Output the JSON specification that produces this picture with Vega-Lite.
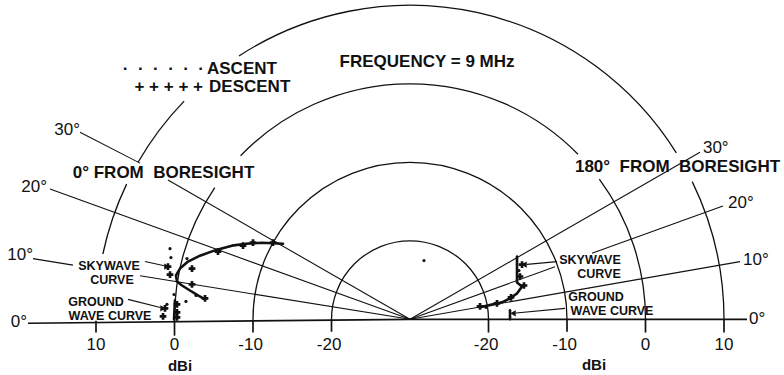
{
  "$schema": "https://vega.github.io/schema/vega-lite/v6.json",
  "width": 784,
  "height": 375,
  "padding": 0,
  "autosize": {"type": "fit", "contains": "padding"},
  "background": "white",
  "config": {"view": {"stroke": null}},
  "datasets": {
    "arcs": [
      {"r": 10, "a1": -90, "a2": 90},
      {"r": 20, "a1": -90, "a2": 90},
      {"r": 30, "a1": -90, "a2": -56},
      {"r": 30, "a1": -46, "a2": 45.5},
      {"r": 30, "a1": 53.5, "a2": 90},
      {"r": 40, "a1": -78, "a2": -64.5},
      {"r": 40, "a1": -60, "a2": -46},
      {"r": 40, "a1": -33, "a2": 58},
      {"r": 40, "a1": 64, "a2": 90}
    ],
    "lines": [
      {"x": 0, "y": 0, "x2": -34.39, "y2": 5.57},
      {"x": -42.93, "y": 6.94, "x2": -48.03, "y2": 7.77},
      {"x": 0, "y": 0, "x2": -45.86, "y2": 16.69},
      {"x": 0, "y": 0, "x2": -30.83, "y2": 17.83},
      {"x": -34.39, "y": 20.0, "x2": -42.04, "y2": 23.95},
      {"x": 0, "y": 0, "x2": 42.04, "y2": 7.39},
      {"x": 0, "y": 0, "x2": 18.47, "y2": 6.73},
      {"x": 23.18, "y": 8.45, "x2": 39.87, "y2": 14.52},
      {"x": 0, "y": 0, "x2": 36.94, "y2": 21.4},
      {"x": -33.76, "y": 7.39, "x2": -31.3, "y2": 6.85},
      {"x": -35.92, "y": 2.55, "x2": -31.8, "y2": 1.5},
      {"x": 18.73, "y": 7.39, "x2": 14.9, "y2": 7.03},
      {"x": 19.75, "y": 1.4, "x2": 13.5, "y2": 0.8}
    ],
    "base": [
      {"x": -48.66, "y": -0.51, "x2": 0, "y2": 0},
      {"x": 0, "y": 0, "x2": 42.93, "y2": 0},
      {"x": -40, "y": -0.2, "x2": -40, "y2": -1.7},
      {"x": -30, "y": 0, "x2": -30, "y2": -2.1},
      {"x": -20, "y": 0, "x2": -20, "y2": -1.7},
      {"x": -10, "y": 0, "x2": -10, "y2": -1.6},
      {"x": 10, "y": 0, "x2": 10, "y2": -1.7},
      {"x": 20, "y": 0, "x2": 20, "y2": -1.6},
      {"x": 30, "y": 0, "x2": 30, "y2": -1.7},
      {"x": 40, "y": 0, "x2": 40, "y2": -1.7}
    ],
    "curves": [
      {"s": "Lsky", "o": 1, "x": -16.18, "y": 9.68},
      {"s": "Lsky", "o": 2, "x": -18.85, "y": 9.81},
      {"s": "Lsky", "o": 3, "x": -20.89, "y": 9.68},
      {"s": "Lsky", "o": 4, "x": -22.68, "y": 9.43},
      {"s": "Lsky", "o": 5, "x": -24.59, "y": 8.92},
      {"s": "Lsky", "o": 6, "x": -26.75, "y": 8.15},
      {"s": "Lsky", "o": 7, "x": -28.28, "y": 7.39},
      {"s": "Lsky", "o": 8, "x": -29.3, "y": 6.5},
      {"s": "Lsky", "o": 9, "x": -29.81, "y": 5.61},
      {"s": "Lsky", "o": 10, "x": -29.68, "y": 4.84},
      {"s": "Lsky", "o": 11, "x": -29.04, "y": 4.33},
      {"s": "Lsky", "o": 12, "x": -28.03, "y": 3.69},
      {"s": "Lsky", "o": 13, "x": -27.01, "y": 3.06},
      {"s": "Lsky", "o": 14, "x": -26.11, "y": 2.55},
      {"s": "Lgnd", "o": 1, "x": -29.94, "y": 2.42},
      {"s": "Lgnd", "o": 2, "x": -30.06, "y": 0},
      {"s": "Rsky", "o": 1, "x": 13.63, "y": 8.03},
      {"s": "Rsky", "o": 2, "x": 13.63, "y": 4.71},
      {"s": "Rsky", "o": 3, "x": 14.27, "y": 4.2},
      {"s": "Rsky", "o": 4, "x": 13.63, "y": 3.31},
      {"s": "Rsky", "o": 5, "x": 12.74, "y": 2.68},
      {"s": "Rsky", "o": 6, "x": 11.72, "y": 2.17},
      {"s": "Rsky", "o": 7, "x": 10.57, "y": 1.91},
      {"s": "Rsky", "o": 8, "x": 8.92, "y": 1.53},
      {"s": "Rgnd", "o": 1, "x": 12.74, "y": 1.15},
      {"s": "Rgnd", "o": 2, "x": 12.74, "y": 0}
    ],
    "descent": [
      {"x": -27.77, "y": 6.5},
      {"x": -24.46, "y": 8.66},
      {"x": -21.27, "y": 9.43},
      {"x": -20.0, "y": 9.81},
      {"x": -17.45, "y": 9.81},
      {"x": -26.11, "y": 2.68},
      {"x": -27.77, "y": 4.46},
      {"x": -29.68, "y": 1.91},
      {"x": -29.68, "y": 0.89},
      {"x": -29.68, "y": 0.25},
      {"x": -30.83, "y": 6.75},
      {"x": -30.57, "y": 5.73},
      {"x": -31.46, "y": 0.38},
      {"x": -31.21, "y": 1.4},
      {"x": 8.92, "y": 1.66},
      {"x": 11.08, "y": 2.04},
      {"x": 12.87, "y": 2.8},
      {"x": 14.52, "y": 4.33},
      {"x": 14.01, "y": 5.48},
      {"x": 14.27, "y": 7.01}
    ],
    "ascent": [
      {"x": -30.45, "y": 7.9},
      {"x": -28.54, "y": 2.29},
      {"x": -28.41, "y": 7.77},
      {"x": -30.57, "y": 9.04},
      {"x": -27.26, "y": 3.06},
      {"x": -30.06, "y": 3.18},
      {"x": -30.96, "y": 1.91},
      {"x": 9.68, "y": 1.53},
      {"x": 13.88, "y": 6.24},
      {"x": 1.78, "y": 7.52}
    ],
    "headsR": [
      {"x": -30.96, "y": 6.75},
      {"x": -31.46, "y": 1.4}
    ],
    "headsL": [
      {"x": 14.52, "y": 7.01},
      {"x": 13.12, "y": 0.76}
    ],
    "bigC": [
      {"t": "0°\u00a0FROM\u00a0\u00a0BORESIGHT", "x": -31.4, "y": 18.73},
      {"t": "180°\u00a0\u00a0FROM\u00a0\u00a0BORESIGHT", "x": 34.08, "y": 19.49},
      {"t": "FREQUENCY = 9 MHz", "x": 2.17, "y": 32.99}
    ],
    "legendR": [
      {"t": "·\u00a0\u00a0·\u00a0\u00a0·\u00a0\u00a0·\u00a0\u00a0·\u00a0\u00a0·", "x": -26.24, "y": 32.1},
      {"t": "+\u00a0+\u00a0+\u00a0+\u00a0+", "x": -26.37, "y": 29.81}
    ],
    "legendL": [
      {"t": "ASCENT", "x": -25.86, "y": 32.1},
      {"t": "DESCENT", "x": -25.6, "y": 29.81}
    ],
    "angR": [
      {"t": "30°", "x": -42.04, "y": 24.2},
      {"t": "20°", "x": -46.24, "y": 16.94},
      {"t": "10°", "x": -48.03, "y": 8.28},
      {"t": "0°", "x": -48.79, "y": -0.38}
    ],
    "angL": [
      {"t": "30°", "x": 37.32, "y": 21.91},
      {"t": "20°", "x": 40.51, "y": 14.9},
      {"t": "10°", "x": 42.42, "y": 7.64},
      {"t": "0°", "x": 43.18, "y": 0}
    ],
    "curveLabels": [
      {"t": "SKYWAVE", "x": -38.34, "y": 6.8},
      {"t": "CURVE", "x": -37.96, "y": 5.05},
      {"t": "GROUND", "x": -40.0, "y": 2.2},
      {"t": "WAVE CURVE", "x": -38.22, "y": 0.45},
      {"t": "SKYWAVE", "x": 22.93, "y": 7.6},
      {"t": "CURVE", "x": 24.08, "y": 5.75},
      {"t": "GROUND", "x": 23.69, "y": 2.9},
      {"t": "WAVE CURVE", "x": 25.73, "y": 1.1}
    ],
    "tickLabels": [
      {"t": "10", "x": -40, "y": -3.31},
      {"t": "0", "x": -30, "y": -3.31},
      {"t": "-10", "x": -20.3, "y": -3.31},
      {"t": "-20", "x": -10.3, "y": -3.31},
      {"t": "-20", "x": 9.7, "y": -3.31},
      {"t": "-10", "x": 19.7, "y": -3.31},
      {"t": "0", "x": 30, "y": -3.31},
      {"t": "10", "x": 40, "y": -3.31}
    ],
    "units": [
      {"t": "dBi", "x": -29.3, "y": -5.99},
      {"t": "dBi", "x": 23.44, "y": -5.86}
    ]
  },
  "layer": [
    {
      "data": {"name": "arcs"},
      "mark": {"type": "arc", "filled": false, "stroke": "#111", "strokeWidth": 1.3},
      "encoding": {
        "x": {"datum": 0, "type": "quantitative", "scale": {"domain": [-52.229, 47.643], "nice": false, "zero": false}, "axis": null},
        "y": {"datum": 0, "type": "quantitative", "scale": {"domain": [-6.879, 40.892], "nice": false, "zero": false}, "axis": null},
        "theta": {"field": "a1", "type": "quantitative", "scale": {"domain": [-90, 90], "range": [-1.5707963, 1.5707963]}},
        "theta2": {"field": "a2"},
        "radius": {"field": "r", "type": "quantitative", "scale": {"type": "linear", "domain": [0, 40], "range": [0, 314]}},
        "radius2": {"field": "r"}
      }
    },
    {
      "data": {"name": "lines"},
      "mark": {"type": "rule", "stroke": "#111", "strokeWidth": 1.1},
      "encoding": {
        "x": {"field": "x", "type": "quantitative", "scale": {"domain": [-52.229, 47.643], "nice": false, "zero": false}, "axis": null},
        "y": {"field": "y", "type": "quantitative", "scale": {"domain": [-6.879, 40.892], "nice": false, "zero": false}, "axis": null},
        "x2": {"field": "x2"},
        "y2": {"field": "y2"}
      }
    },
    {
      "data": {"name": "base"},
      "mark": {"type": "rule", "stroke": "#111", "strokeWidth": 1.7},
      "encoding": {
        "x": {"field": "x", "type": "quantitative", "scale": {"domain": [-52.229, 47.643], "nice": false, "zero": false}, "axis": null},
        "y": {"field": "y", "type": "quantitative", "scale": {"domain": [-6.879, 40.892], "nice": false, "zero": false}, "axis": null},
        "x2": {"field": "x2"},
        "y2": {"field": "y2"}
      }
    },
    {
      "data": {"name": "curves"},
      "mark": {"type": "line", "stroke": "#111", "strokeWidth": 2.6, "strokeJoin": "round", "strokeCap": "round"},
      "encoding": {
        "x": {"field": "x", "type": "quantitative", "scale": {"domain": [-52.229, 47.643], "nice": false, "zero": false}, "axis": null},
        "y": {"field": "y", "type": "quantitative", "scale": {"domain": [-6.879, 40.892], "nice": false, "zero": false}, "axis": null},
        "detail": {"field": "s"},
        "order": {"field": "o", "type": "quantitative"}
      }
    },
    {
      "data": {"name": "descent"},
      "mark": {"type": "point", "shape": "cross", "filled": true, "color": "#111", "size": 45, "opacity": 1},
      "encoding": {
        "x": {"field": "x", "type": "quantitative", "scale": {"domain": [-52.229, 47.643], "nice": false, "zero": false}, "axis": null},
        "y": {"field": "y", "type": "quantitative", "scale": {"domain": [-6.879, 40.892], "nice": false, "zero": false}, "axis": null}
      }
    },
    {
      "data": {"name": "ascent"},
      "mark": {"type": "point", "shape": "circle", "filled": true, "color": "#111", "size": 10, "opacity": 1},
      "encoding": {
        "x": {"field": "x", "type": "quantitative", "scale": {"domain": [-52.229, 47.643], "nice": false, "zero": false}, "axis": null},
        "y": {"field": "y", "type": "quantitative", "scale": {"domain": [-6.879, 40.892], "nice": false, "zero": false}, "axis": null}
      }
    },
    {
      "data": {"name": "headsR"},
      "mark": {"type": "point", "shape": "triangle-right", "filled": true, "color": "#111", "size": 40, "opacity": 1},
      "encoding": {
        "x": {"field": "x", "type": "quantitative", "scale": {"domain": [-52.229, 47.643], "nice": false, "zero": false}, "axis": null},
        "y": {"field": "y", "type": "quantitative", "scale": {"domain": [-6.879, 40.892], "nice": false, "zero": false}, "axis": null}
      }
    },
    {
      "data": {"name": "headsL"},
      "mark": {"type": "point", "shape": "triangle-left", "filled": true, "color": "#111", "size": 40, "opacity": 1},
      "encoding": {
        "x": {"field": "x", "type": "quantitative", "scale": {"domain": [-52.229, 47.643], "nice": false, "zero": false}, "axis": null},
        "y": {"field": "y", "type": "quantitative", "scale": {"domain": [-6.879, 40.892], "nice": false, "zero": false}, "axis": null}
      }
    },
    {
      "data": {"name": "bigC"},
      "mark": {"type": "text", "font": "Liberation Sans", "fontWeight": "bold", "fontSize": 17, "align": "center", "baseline": "middle", "color": "#111"},
      "encoding": {
        "x": {"field": "x", "type": "quantitative", "scale": {"domain": [-52.229, 47.643], "nice": false, "zero": false}, "axis": null},
        "y": {"field": "y", "type": "quantitative", "scale": {"domain": [-6.879, 40.892], "nice": false, "zero": false}, "axis": null},
        "text": {"field": "t"}
      }
    },
    {
      "data": {"name": "legendR"},
      "mark": {"type": "text", "font": "Liberation Sans", "fontWeight": "bold", "fontSize": 17, "align": "right", "baseline": "middle", "color": "#111"},
      "encoding": {
        "x": {"field": "x", "type": "quantitative", "scale": {"domain": [-52.229, 47.643], "nice": false, "zero": false}, "axis": null},
        "y": {"field": "y", "type": "quantitative", "scale": {"domain": [-6.879, 40.892], "nice": false, "zero": false}, "axis": null},
        "text": {"field": "t"}
      }
    },
    {
      "data": {"name": "legendL"},
      "mark": {"type": "text", "font": "Liberation Sans", "fontWeight": "bold", "fontSize": 17, "align": "left", "baseline": "middle", "color": "#111"},
      "encoding": {
        "x": {"field": "x", "type": "quantitative", "scale": {"domain": [-52.229, 47.643], "nice": false, "zero": false}, "axis": null},
        "y": {"field": "y", "type": "quantitative", "scale": {"domain": [-6.879, 40.892], "nice": false, "zero": false}, "axis": null},
        "text": {"field": "t"}
      }
    },
    {
      "data": {"name": "angR"},
      "mark": {"type": "text", "font": "Liberation Sans", "fontWeight": "normal", "fontSize": 17, "align": "right", "baseline": "middle", "color": "#111"},
      "encoding": {
        "x": {"field": "x", "type": "quantitative", "scale": {"domain": [-52.229, 47.643], "nice": false, "zero": false}, "axis": null},
        "y": {"field": "y", "type": "quantitative", "scale": {"domain": [-6.879, 40.892], "nice": false, "zero": false}, "axis": null},
        "text": {"field": "t"}
      }
    },
    {
      "data": {"name": "angL"},
      "mark": {"type": "text", "font": "Liberation Sans", "fontWeight": "normal", "fontSize": 17, "align": "left", "baseline": "middle", "color": "#111"},
      "encoding": {
        "x": {"field": "x", "type": "quantitative", "scale": {"domain": [-52.229, 47.643], "nice": false, "zero": false}, "axis": null},
        "y": {"field": "y", "type": "quantitative", "scale": {"domain": [-6.879, 40.892], "nice": false, "zero": false}, "axis": null},
        "text": {"field": "t"}
      }
    },
    {
      "data": {"name": "curveLabels"},
      "mark": {"type": "text", "font": "Liberation Sans", "fontWeight": "bold", "fontSize": 12.5, "align": "center", "baseline": "middle", "color": "#111"},
      "encoding": {
        "x": {"field": "x", "type": "quantitative", "scale": {"domain": [-52.229, 47.643], "nice": false, "zero": false}, "axis": null},
        "y": {"field": "y", "type": "quantitative", "scale": {"domain": [-6.879, 40.892], "nice": false, "zero": false}, "axis": null},
        "text": {"field": "t"}
      }
    },
    {
      "data": {"name": "tickLabels"},
      "mark": {"type": "text", "font": "Liberation Sans", "fontWeight": "normal", "fontSize": 17, "align": "center", "baseline": "middle", "color": "#111"},
      "encoding": {
        "x": {"field": "x", "type": "quantitative", "scale": {"domain": [-52.229, 47.643], "nice": false, "zero": false}, "axis": null},
        "y": {"field": "y", "type": "quantitative", "scale": {"domain": [-6.879, 40.892], "nice": false, "zero": false}, "axis": null},
        "text": {"field": "t"}
      }
    },
    {
      "data": {"name": "units"},
      "mark": {"type": "text", "font": "Liberation Sans", "fontWeight": "bold", "fontSize": 15, "align": "center", "baseline": "middle", "color": "#111"},
      "encoding": {
        "x": {"field": "x", "type": "quantitative", "scale": {"domain": [-52.229, 47.643], "nice": false, "zero": false}, "axis": null},
        "y": {"field": "y", "type": "quantitative", "scale": {"domain": [-6.879, 40.892], "nice": false, "zero": false}, "axis": null},
        "text": {"field": "t"}
      }
    }
  ]
}
